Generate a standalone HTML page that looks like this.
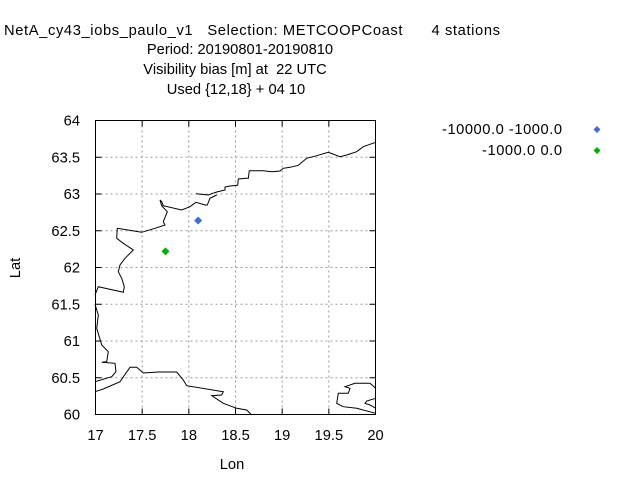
<!DOCTYPE html>
<html><head><meta charset="utf-8"><style>
body{margin:0;background:#fff;}
svg text{font-family:"Liberation Sans",sans-serif;font-size:14.7px;fill:#000;white-space:pre;}
</style></head><body>
<svg width="640" height="480" xmlns="http://www.w3.org/2000/svg">
<rect width="640" height="480" fill="#fff"/>
<g id="titles">
<text x="4" y="35" xml:space="preserve" textLength="496">NetA_cy43_iobs_paulo_v1   Selection: METCOOPCoast      4 stations</text>
<text x="240" y="54" text-anchor="middle">Period: 20190801-20190810</text>
<text x="235" y="74" text-anchor="middle" xml:space="preserve">Visibility bias [m] at  22 UTC</text>
<text x="236" y="94" text-anchor="middle">Used {12,18} + 04 10</text>
</g>
<g id="grid"></g>
<g id="coast" fill="none" stroke="#000" stroke-width="1">
<polyline points="95,295 98.3,286.7 123.3,292.3 124.3,286.7 121.7,278.3 118.3,271.7 120,265 125,258.3 133.3,250 123.3,243.3 116.7,238.3 117.3,228.3 141.7,232.3 155,228.3 165,225 163.3,221.7 167.3,211.7 161.7,205.7 160,200 161.7,201.7 163.3,205.7 181.7,210 190,206.7 196,202.3 205,205 207.3,205 210,198.3 216.7,195"/>
<polyline points="196,193.7 208.3,195 212.7,193.3 216.7,192 225,190 225,187 230,186 237.7,185.3 238.3,179 246,178.3 248.3,178.3 249.3,170.7 263.3,170.7 271.7,171.7 280,171 283.3,168.3 290,167.3 298.3,165.3 306.7,158.3 316.7,155.7 328.3,152.3 340,156.7 346.7,155 356.7,151.7 363.3,146.7 370,144.3 375.7,142.3"/>
<polyline points="95,304.3 98.3,315 96.7,328.3 101.7,345 108.3,351.7 106.7,361.7 101.7,362.3 115,363.3 116,371.7 111.7,376.7 95,381.7"/>
<polyline points="95,391.7 103.3,389 120,381.7 130,367.3 136.7,367.3 143.3,373 158.3,372 176.7,372 183.3,380 186.7,385.7 223.3,391.7 221.7,395 211.7,395.7 223.3,403.3 236.7,408.3 246.7,410 251.7,415"/>
<polyline points="375.7,388.3 370,383.3 355,383.3 345,386.7 350,388.3 348.3,393.3 338.3,393.3 336.7,403.3 343.3,406.7 356.7,408.3 375.7,413.3"/>
<polyline points="375.7,398.3 366.7,401 365,403.3 370,405 375.7,408.3"/>
</g>
<rect x="95.5" y="120.5" width="280" height="294" fill="none" stroke="#000"/>
<g id="ticks"></g>
<g id="pts"></g>
<text x="232" y="469" text-anchor="middle">Lon</text>
<text x="20" y="268" text-anchor="middle" transform="rotate(-90 20 268)">Lat</text>
<g>
<text x="442" y="134" textLength="120">-10000.0 -1000.0</text>
<text x="482" y="155" textLength="80">-1000.0 0.0</text>
<path d="M597,126 l3.5,3.5 l-3.5,3.5 l-3.5,-3.5z" fill="#4169e1"/>
<path d="M597,147 l3.5,3.5 l-3.5,3.5 l-3.5,-3.5z" fill="#00b000"/>
</g>
</svg>
<script>
const xTicks=[17,17.5,18,18.5,19,19.5,20];
const yTicks=[60,60.5,61,61.5,62,62.5,63,63.5,64];
const lons=[18.10,17.75];
const lats=[62.64,62.22];
const colors=['#4169e1','#00b000'];
const X=v=>95.5+(v-17)/3*280, Y=v=>414.5-(v-60)/4*294;
const NS='http://www.w3.org/2000/svg';
const g=document.getElementById('grid'),t=document.getElementById('ticks'),p=document.getElementById('pts');
function mk(par,tag,a){const e=document.createElementNS(NS,tag);for(const k in a)e.setAttribute(k,a[k]);par.appendChild(e);return e;}
xTicks.forEach((v,i)=>{const x=X(v);
 if(i>0&&i<xTicks.length-1){const l=mk(g,'line',{x1:x,x2:x,y1:120.5,y2:414.5,stroke:'#999','stroke-dasharray':'2,3'});
 
 
 mk(t,'line',{x1:x,x2:x,y1:414.5,y2:408.5,stroke:'#000'});mk(t,'line',{x1:x,x2:x,y1:120.5,y2:126.5,stroke:'#000'});}
 const tx=mk(t,'text',{x:x,y:440,'text-anchor':'middle'});tx.textContent=v;
 
 
});
yTicks.forEach((v,i)=>{const y=Y(v);
 if(i>0&&i<yTicks.length-1){const l=mk(g,'line',{x1:95.5,x2:375.5,y1:y,y2:y,stroke:'#999','stroke-dasharray':'2,3'});
 
 
 mk(t,'line',{x1:95.5,x2:101.5,y1:y,y2:y,stroke:'#000'});mk(t,'line',{x1:375.5,x2:369.5,y1:y,y2:y,stroke:'#000'});}
 const tx=mk(t,'text',{x:80,y:y+5,'text-anchor':'end'});tx.textContent=v;
 
 
});
lons.forEach((lo,i)=>{const x=X(lo),y=Y(lats[i]);
 const m=mk(p,'path',{d:`M${x},${y-4} l4,4 l-4,4 l-4,-4z`,fill:colors[i]});
 
 
});
</script>
</body></html>
